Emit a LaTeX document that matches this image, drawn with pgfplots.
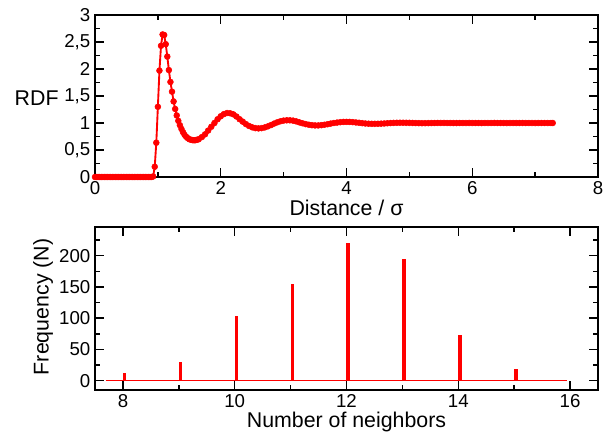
\documentclass[border=0pt]{standalone}
\usepackage{fontspec}
\setmainfont{Liberation Sans}
\usepackage{pgfplots}
\pgfplotsset{compat=1.18}
\definecolor{pred}{RGB}{255,0,0}
\begin{document}
\begin{tikzpicture}
\path[use as bounding box] (-71.25pt,-194.25pt) rectangle (385.5pt,132.75pt);
\pgfplotsset{
  every axis/.append style={
    scale only axis,
    width=377.25pt,
    axis line style={line width=1.5pt},
    tick style={line width=1.1pt, black},
    major tick length=7pt,
    minor tick length=3.5pt,
    tick align=inside,
    xtick pos=both, ytick pos=both,
    xticklabel pos=bottom, yticklabel pos=left,
    tick label style={font=\fontsize{14}{16}\selectfont},
    label style={font=\fontsize{16}{19}\selectfont},
    /pgf/number format/assume math mode=true,
    /pgf/number format/use comma,
    axis on top,
  }
}
% ---------------- top: RDF ----------------
\begin{axis}[
  at={(0pt,0pt)}, anchor=south west,
  height=121.5pt,
  xmin=0, xmax=8, ymin=0, ymax=3,
  xtick={0,2,4,6,8}, minor x tick num=1,
  ytick={0,0.5,1,1.5,2,2.5,3}, minor y tick num=1,
  clip=false,
  xlabel={Distance / σ},
  xlabel style={at={(axis description cs:0.5,-0.19)}, anchor=center},
  ylabel={RDF},
  ylabel style={rotate=-90, at={(axis description cs:-0.116,0.485)}, anchor=center},
]
\addplot[color=pred, line width=1.4pt, mark=*, mark size=2.2pt, mark options={fill=pred, draw=pred, line width=0.4pt}] coordinates {
(0,0)(0.025,0)(0.05,0)(0.075,0)(0.1,0)(0.125,0)(0.15,0)(0.175,0)(0.2,0)(0.225,0)
(0.25,0)(0.275,0)(0.3,0)(0.325,0)(0.35,0)(0.375,0)(0.4,0)(0.425,0)(0.45,0)(0.475,0)
(0.5,0)(0.525,0)(0.55,0)(0.575,0)(0.6,0)(0.625,0)(0.65,0)(0.675,0)(0.7,0)(0.725,0)
(0.75,0)(0.775,0)(0.8,0)(0.825,0)(0.85,0)(0.875,0)(0.9,0)(0.925,0.01)
(0.95,0.19)(0.975,0.635)(1.0,1.30)(1.025,1.97)(1.05,2.43)(1.075,2.64)(1.1,2.63)
(1.125,2.46)(1.15,2.23)(1.175,1.98)(1.2,1.76)(1.225,1.58)(1.25,1.40)(1.275,1.26)
(1.3,1.14)(1.325,1.04)(1.35,0.96)(1.375,0.89)(1.4,0.83)(1.425,0.78)(1.45,0.745)
(1.475,0.72)(1.5,0.70)(1.525,0.69)(1.55,0.683)(1.575,0.68)(1.6,0.683)(1.625,0.69)
(1.65,0.70)(1.7,0.74)(1.75,0.79)(1.8,0.86)(1.85,0.93)(1.9,1.00)(1.95,1.07)
(2.0,1.125)(2.05,1.165)(2.1,1.185)(2.15,1.18)(2.2,1.16)(2.25,1.12)(2.3,1.07)
(2.35,1.025)(2.4,0.98)(2.45,0.945)(2.5,0.92)(2.55,0.905)(2.6,0.90)(2.65,0.905)
(2.7,0.918)(2.75,0.938)(2.8,0.962)(2.85,0.99)(2.9,1.013)(2.95,1.032)(3.0,1.045)
(3.05,1.05)(3.1,1.05)(3.15,1.044)(3.2,1.03)(3.25,1.012)(3.3,0.995)(3.35,0.98)
(3.4,0.968)(3.45,0.96)(3.5,0.955)(3.55,0.955)(3.6,0.96)(3.65,0.968)(3.7,0.978)
(3.75,0.99)(3.8,1.0)(3.85,1.008)(3.9,1.015)(3.95,1.02)(4.0,1.021)(4.05,1.02)
(4.1,1.016)(4.15,1.01)(4.2,1.004)(4.25,0.997)(4.3,0.991)(4.35,0.987)(4.4,0.985)
(4.45,0.985)(4.5,0.986)(4.55,0.988)(4.6,0.991)(4.65,0.995)(4.7,0.999)(4.75,1.002)
(4.8,1.004)(4.85,1.005)(4.9,1.005)(4.95,1.004)(5.0,1.003)(5.05,1.001)(5.1,0.999)
(5.15,0.998)(5.2,0.997)(5.25,0.997)(5.3,0.998)(5.35,0.999)(5.4,1.0)(5.45,1.001)
(5.5,1.001)(5.55,1.001)(5.6,1.0)(5.65,1.0)(5.7,0.999)(5.75,0.999)(5.8,1.0)
(5.85,1.0)(5.9,1.0)(5.95,1.001)(6.0,1.0)(6.05,1.0)(6.1,1.0)(6.15,0.999)(6.2,1.0)
(6.25,1.0)(6.3,1.0)(6.35,1.001)(6.4,1.0)(6.45,1.0)(6.5,1.0)(6.55,0.999)(6.6,1.0)
(6.65,1.0)(6.7,1.0)(6.75,1.0)(6.8,1.001)(6.85,1.0)(6.9,1.0)(6.95,1.0)(7.0,0.999)
(7.05,1.0)(7.1,1.0)(7.15,1.0)(7.2,1.0)(7.25,1.0)(7.28,1.0)
};
\end{axis}
% ---------------- bottom: histogram ----------------
\begin{axis}[
  at={(0pt,-159.75pt)}, anchor=south west,
  height=122.25pt,
  xmin=7.5, xmax=16.5, ymin=-15, ymax=246,
  xtick={8,10,12,14,16}, minor x tick num=1,
  ytick={0,50,100,150,200},
  minor ytick={25,75,125,175,225},
  xlabel={Number of neighbors},
  xlabel style={at={(axis description cs:0.5,-0.195)}, anchor=center},
  ylabel={Frequency (N)},
  ylabel style={at={(axis description cs:-0.103,0.51)}, anchor=center},
]
\addplot[color=pred, line width=1pt] coordinates {(7.69,0)(15.94,0)};
\addplot[color=pred, ycomb, line width=2.6pt] coordinates {
(8.03,13)(9.03,30)(10.03,103)(11.03,155)(12.03,220)(13.03,194)(14.03,73)(15.03,18)
};
\end{axis}
\end{tikzpicture}
\end{document}
